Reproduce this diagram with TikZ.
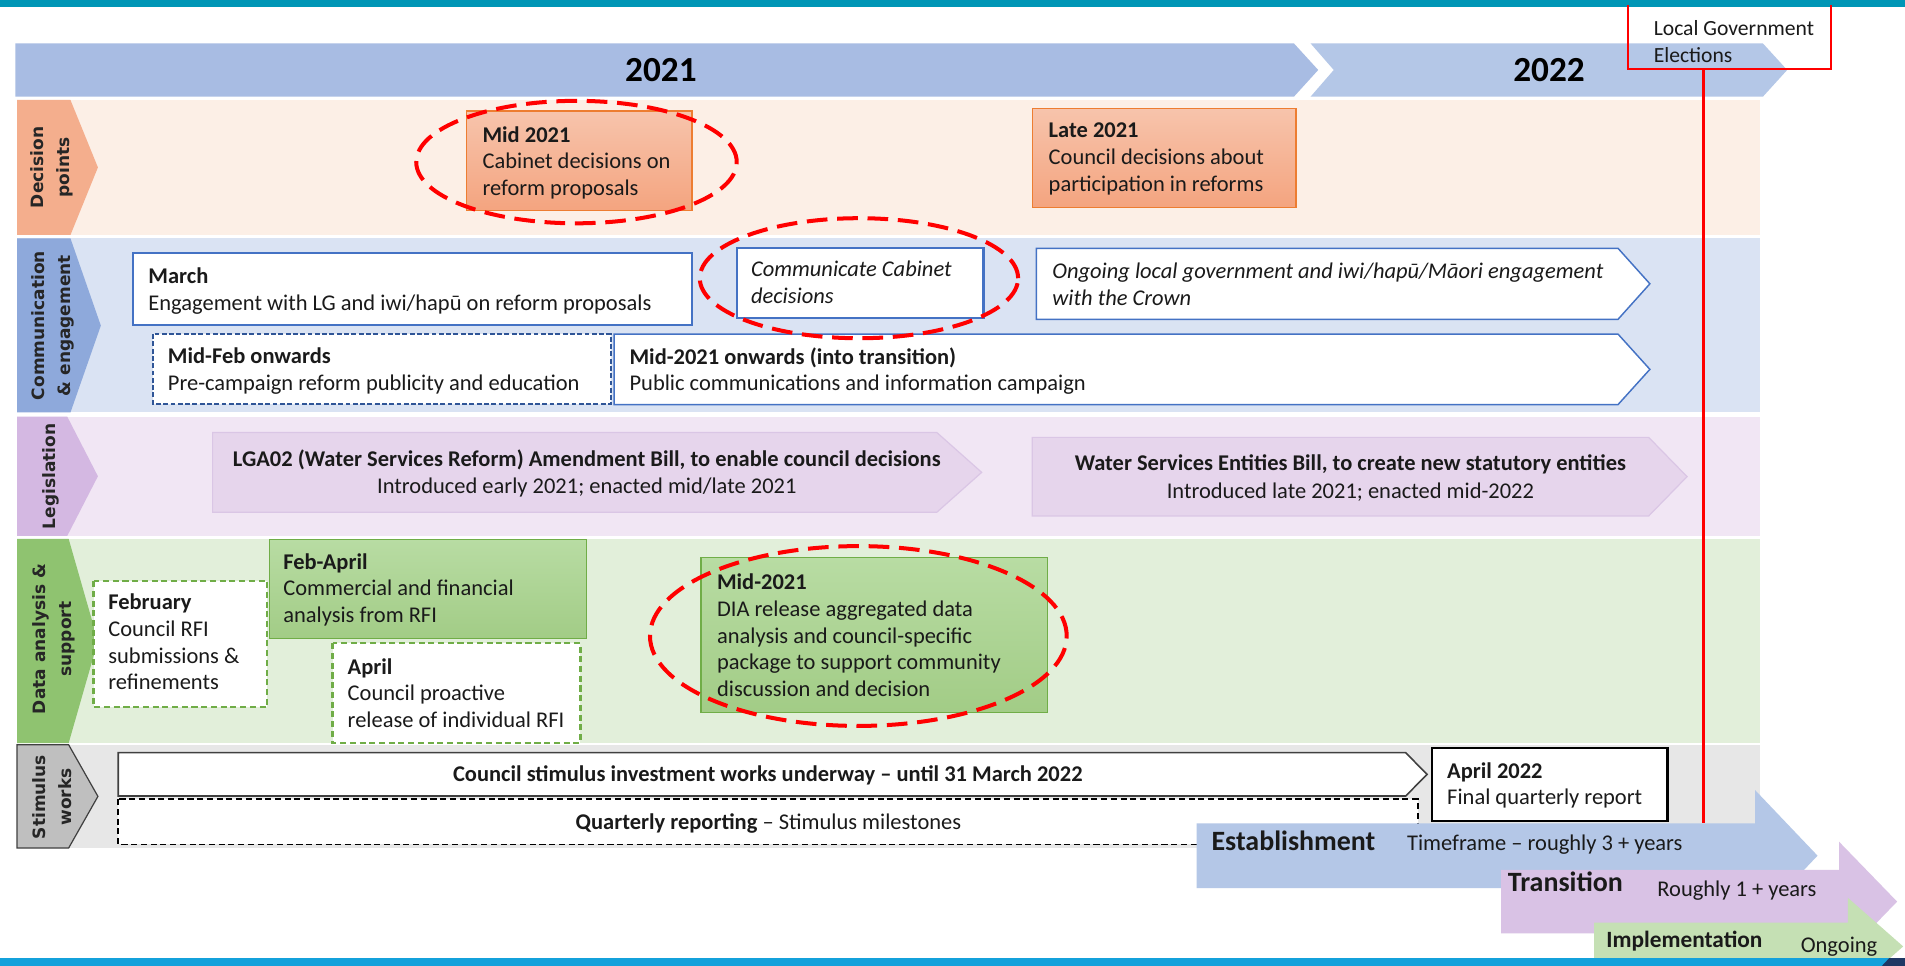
\documentclass[tikz,border=0pt]{standalone}
\usepackage{fontspec}
\setmainfont{Carlito}
\newfontfamily\lanefont{DejaVu Sans}
\definecolor{tealtop}{HTML}{0096B6}
\definecolor{btmbar}{HTML}{14A1DB}
\definecolor{navy}{HTML}{1F3864}
\definecolor{yrA}{HTML}{A8BCE3}
\definecolor{yrB}{HTML}{B4C7E7}
\definecolor{bandDP}{HTML}{FCEFE6}
\definecolor{bandCE}{HTML}{DAE3F3}
\definecolor{bandLG}{HTML}{F1E6F4}
\definecolor{bandDA}{HTML}{E2EFDA}
\definecolor{bandSW}{HTML}{E7E7E7}
\definecolor{lblDP}{HTML}{F4AE8D}
\definecolor{lblCE}{HTML}{8EA9DB}
\definecolor{lblLG}{HTML}{D4B8E2}
\definecolor{lblDA}{HTML}{8FC370}
\definecolor{lblSW}{HTML}{BFBFBF}
\definecolor{orgB}{HTML}{ED7D31}
\definecolor{orgT}{HTML}{F7C4AC}
\definecolor{orgD}{HTML}{F4A47F}
\definecolor{blueB}{HTML}{4472C4}
\definecolor{navyB}{HTML}{2F5597}
\definecolor{legF}{HTML}{E6D5EC}
\definecolor{legB}{HTML}{DAC6E5}
\definecolor{grnB}{HTML}{70AD47}
\definecolor{grnT}{HTML}{B8DCA3}
\definecolor{grnD}{HTML}{A2CC86}
\definecolor{estF}{HTML}{B4C7E7}
\definecolor{traF}{HTML}{D9C2E5}
\definecolor{impF}{HTML}{C5E0B4}
\definecolor{txt}{HTML}{1A1A1A}
\definecolor{lanetxt}{HTML}{262626}
\definecolor{stimB}{HTML}{404040}
\begin{document}
\begin{tikzpicture}[x=1pt,y=-1pt,
  every node/.style={inner sep=0pt},
  body/.style={font=\fontsize{18.5}{22}\selectfont, align=left, anchor=west, text=txt},
  bodyc/.style={font=\fontsize{18.5}{22.5}\selectfont, align=center, anchor=center, text=txt},
  lanelbl/.style={font=\lanefont\bfseries\fontsize{14}{21.5}\selectfont, align=center, rotate=90, text=lanetxt},
  yeartxt/.style={font=\bfseries\fontsize{29}{32}\selectfont, text=black},
  hilite/.style={draw=red, line width=3.3pt, dash pattern=on 17pt off 8pt},
  solidbox/.style={draw=blueB, line width=1.8pt, fill=white},
  arrowbox/.style={draw=blueB, line width=1.2pt, fill=white},
  grndash/.style={draw=grnB, line width=1.8pt, fill=white, dash pattern=on 5pt off 3pt},
  grnfill/.style={draw=grnB, line width=1pt, top color=grnT, bottom color=grnD},
  orgfill/.style={draw=orgB, line width=1pt, top color=orgT, bottom color=orgD},
  legarrow/.style={fill=legF, draw=legB, line width=1pt},
  phasebig/.style={font=\bfseries\fontsize{23}{26}\selectfont, anchor=west, text=txt},
  phasesmall/.style={font=\fontsize{18.5}{22}\selectfont, anchor=west, text=txt}
]
\useasboundingbox (0,0) rectangle (1568,795);
\fill[white] (0,0) rectangle (1568,795);
% top bar
\fill[tealtop] (0,0) rectangle (1568,5.5);
% year bars
\fill[yrA] (12.6,35.7) -- (1065,35.7) -- (1085,57.6) -- (1065,79.6) -- (12.6,79.6) -- cycle;
\fill[yrB] (1078.7,35.7) -- (1451,35.7) -- (1471,57.6) -- (1451,79.6) -- (1078.7,79.6) -- (1097.8,57.6) -- cycle;
\node[yeartxt] (y2021) at (544,58) {2021};
\node[yeartxt] (y2022) at (1275,58) {2022};
% bands
\fill[bandDP] (14,82.3) rectangle (1449,193.4);
\fill[bandCE] (14,196.2) rectangle (1449,339.5);
\fill[bandLG] (14,343) rectangle (1449,441);
\fill[bandDA] (14,443.5) rectangle (1449,611.7);
\fill[bandSW] (14,613) rectangle (1449,698);
% lane labels
\fill[lblDP] (14,82.3) -- (58,82.3) -- (80.6,137.8) -- (58,193.4) -- (14,193.4) -- cycle;
\node[lanelbl] (lDP) at (43,137.8) {Decision\\points};
\fill[lblCE] (14,196.2) -- (58,196.2) -- (83,268) -- (58,339.5) -- (14,339.5) -- cycle;
\node[lanelbl] (lCE) at (43.5,268) {Communication\\\& engagement};
\fill[lblLG] (14,343) -- (55.4,343) -- (80.6,392) -- (55.4,441) -- (14,441) -- cycle;
\node[lanelbl] (lLG) at (42,392) {Legislation};
\fill[lblDA] (14,443.5) -- (56.5,443.5) -- (80.6,527.6) -- (56.5,611.7) -- (14,611.7) -- cycle;
\node[lanelbl] (lDA) at (44,526) {Data analysis \&\\support};
\path[fill=lblSW, draw=stimB, line width=1pt] (14,613) -- (56.5,613) -- (80.6,655.5) -- (56.5,698) -- (14,698) -- cycle;
\node[lanelbl] (lSW) at (43,656) {Stimulus\\works};
% decision boxes
\path[orgfill] (384,91.4) rectangle (569.6,173.4);
\node[body] (dp1) at (397,134) {\textbf{Mid 2021}\\Cabinet decisions on\\reform proposals};
\path[orgfill] (849.6,89) rectangle (1066.8,171);
\node[body] (dp2) at (863,131) {\textbf{Late 2021}\\Council decisions about\\participation in reforms};
% communication boxes
\path[solidbox] (109.4,208.5) rectangle (569.6,267.5);
\node[body] (ce1) at (122,239.5) {\textbf{March}\\Engagement with LG and iwi/hapū on reform proposals};
\path[solidbox] (606.4,204) rectangle (809.5,261.5);
\node[body, font=\fontsize{18.5}{22.5}\selectfont\itshape] (ce2) at (618,232.5) {Communicate Cabinet\\decisions};
\path[arrowbox] (853,204.4) -- (1331.8,204.4) -- (1358,233.6) -- (1331.8,262.8) -- (853,262.8) -- cycle;
\node[body, font=\fontsize{18.5}{22}\selectfont\itshape] (ce3) at (866,234) {Ongoing local government and iwi/hapū/Māori engagement\\with the Crown};
\path[draw=navyB, line width=1.3pt, dash pattern=on 4pt off 2pt, fill=white] (126,275) rectangle (503,332.6);
\node[body] (ce4) at (138,305.5) {\textbf{Mid-Feb onwards}\\Pre-campaign reform publicity and education};
\path[arrowbox] (505.5,275) -- (1331.8,275) -- (1358,304) -- (1331.8,333) -- (505.5,333) -- cycle;
\node[body] (ce5) at (518,305.5) {\textbf{Mid-2021 onwards (into transition)}\\Public communications and information campaign};
% legislation
\path[legarrow] (175,355.9) -- (771,355.9) -- (808,388.8) -- (771,421.7) -- (175,421.7) -- cycle;
\node[bodyc] (lg1) at (483,389.5) {\textbf{LGA02 (Water Services Reform) Amendment Bill, to enable council decisions}\\Introduced early 2021; enacted mid/late 2021};
\path[legarrow] (849.6,360) -- (1357,360) -- (1388.6,392.3) -- (1357,424.7) -- (849.6,424.7) -- cycle;
\node[bodyc] (lg2) at (1111.5,393.5) {\textbf{Water Services Entities Bill, to create new statutory entities}\\Introduced late 2021; enacted mid-2022};
% data analysis
\path[grndash] (77,478.3) rectangle (220,581.7);
\node[body] (da1) at (89,528.5) {\textbf{February}\\Council RFI\\submissions \&\\refinements};
\path[grnfill] (221.8,444) rectangle (482.9,525.7);
\node[body] (da2) at (233,485.5) {\textbf{Feb-April}\\Commercial and financial\\analysis from RFI};
\path[grndash] (273.7,529.5) rectangle (477.8,611.3);
\node[body] (da3) at (286,570.5) {\textbf{April}\\Council proactive\\release of individual RFI};
\path[grnfill] (577,459) rectangle (862,586.6);
\node[body] (da4) at (590,523) {\textbf{Mid-2021}\\DIA release aggregated data\\analysis and council-specific\\package to support community\\discussion and decision};
% stimulus
\path[draw=stimB, line width=1.3pt, fill=white] (97.3,619.5) -- (1157,619.5) -- (1174.6,637.4) -- (1157,655.2) -- (97.3,655.2) -- cycle;
\node[bodyc] (sw1) at (632,638) {\textbf{Council stimulus investment works underway – until 31 March 2022}};
\path[draw=black, line width=1.3pt, dash pattern=on 5pt off 3pt, fill=white] (97.3,657.7) rectangle (1167,695);
\node[bodyc] (sw2) at (632.5,678) {\textbf{Quarterly reporting} – Stimulus milestones};
\path[draw=black, line width=1.8pt, fill=white] (1178.7,616) rectangle (1372.5,675.5);
\node[body] (sw3) at (1191,646.5) {\textbf{April 2022}\\Final quarterly report};
% highlight ellipses
\draw[hilite] (474.5,133.4) ellipse [x radius=131.9pt, y radius=50.4pt];
\draw[hilite] (707,229) ellipse [x radius=131pt, y radius=49.4pt];
\draw[hilite] (706.5,523.5) ellipse [x radius=171.5pt, y radius=74pt];
% local government elections
\coordinate (lgeTop) at (1402,56.8);
\coordinate (lgeEnd) at (1402,677.7);
\draw[red, line width=2pt] (lgeTop) -- (lgeEnd);
\draw[red, line width=1.5pt] (1340,4) -- (1340,56.8) -- (1507,56.8) -- (1507,4);
\node[body, font=\fontsize{17.8}{22.5}\selectfont] (lge) at (1361,34) {Local Government\\Elections};
% phase arrows
\fill[estF] (985,677.7) -- (1444.6,677.7) -- (1444.6,650.3) -- (1496,704.3) -- (1444.6,758.4) -- (1444.6,731) -- (985,731) -- cycle;
\node[phasebig] (ph1) at (997,692) {Establishment};
\node[phasesmall] (ph1b) at (1158,695) {Timeframe – roughly 3 + years};
\fill[traF] (1235.5,716) -- (1513.7,716) -- (1513.7,692.8) -- (1561.5,742.1) -- (1513.7,791.4) -- (1513.7,768.2) -- (1235.5,768.2) -- cycle;
\node[phasebig] (ph2) at (1241,726) {Transition};
\node[phasesmall] (ph2b) at (1364,733) {Roughly 1 + years};
\fill[impF] (1312,759.5) -- (1521,759.5) -- (1521,739) -- (1566.5,779) -- (1521,819) -- (1521,798.5) -- (1312,798.5) -- cycle;
\node[phasebig, font=\bfseries\fontsize{19.2}{22}\selectfont] (ph3) at (1322,775) {Implementation};
\node[phasesmall] (ph3b) at (1482,779.5) {Ongoing};
% bottom bar
\fill[btmbar] (0,788.6) rectangle (1568,795);
\fill[navy] (1549,795) -- (1555,788.6) -- (1568,788.6) -- (1568,795) -- cycle;
\end{tikzpicture}
\end{document}
